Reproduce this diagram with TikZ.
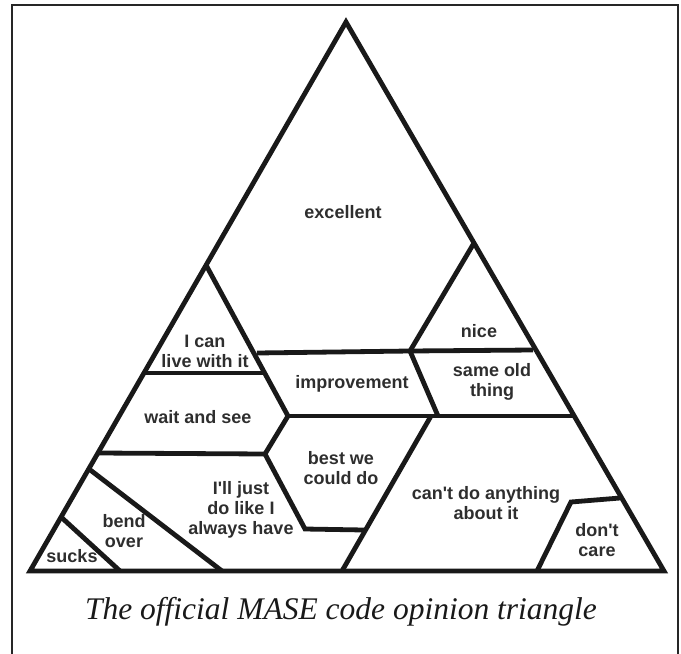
\documentclass[tikz,border=0pt]{standalone}
\usepackage{fontspec}
\setmainfont{Liberation Serif}
\newfontfamily\labfont{Liberation Sans}
\begin{document}
\begin{tikzpicture}[x=1pt,y=-1pt,
  edge/.style={line width=4.8pt,line join=miter,black!90},
  lab/.style={font=\labfont\bfseries\fontsize{18}{20}\selectfont,text=black!82,align=center,inner sep=0pt},
  captionstyle/.style={font=\itshape\fontsize{31.5}{36}\selectfont,text=black!90,inner sep=0pt}]
\useasboundingbox (0,0) rectangle (681,654);
% frame
\draw[line width=2.6pt,black!85] (12,660) -- (12,5) -- (678,5) -- (678,660);
% outer triangle
\coordinate (A) at (346,22);
\coordinate (BL) at (30,571);
\coordinate (BR) at (664,571);
\draw[edge] (A) -- (BL) -- (BR) -- cycle;
% inner lines
\draw[edge] (206,265) -- (288,416);
\draw[edge] (144,373) -- (264,373);
\draw[edge] (257,353) -- (410,351) -- (533,350);
\draw[edge] (474,243) -- (410,351) -- (438,416);
\draw[edge] (288,416) -- (574,416);
\draw[edge] (288,416) -- (265,454) -- (305,529) -- (364,530);
\draw[edge] (98,453) -- (265,454);
\draw[edge] (431,416) -- (342,571);
\draw[edge] (89,469) -- (222,571);
\draw[edge] (61,517) -- (120,571);
\draw[edge] (620,498) -- (571,502) -- (537,571);
% labels
\node[lab] (excellent) at (343,212) {excellent};
\node[lab] (nice) at (479,331) {nice};
\node[lab] (ican) at (205,351) {I can\\live with it};
\node[lab] (improvement) at (352,384) {improvement};
\node[lab] (sameold) at (492,382) {same old\\thing};
\node[lab] (wait) at (198,417) {wait and see};
\node[lab] (best) at (341,468) {best we\\could do};
\node[lab] (illjust) at (241,510) {I'll just\\do like I\\always have};
\node[lab] (cant) at (486,503) {can't do anything\\about it};
\node[lab] (bend) at (124,531) {bend\\over};
\node[lab] (sucks) at (72,556) {sucks};
\node[lab] (dontcare) at (597,540) {don't\\care};
\node[captionstyle] (caption) at (341,612) {The official MASE code opinion triangle};
\end{tikzpicture}
\end{document}
